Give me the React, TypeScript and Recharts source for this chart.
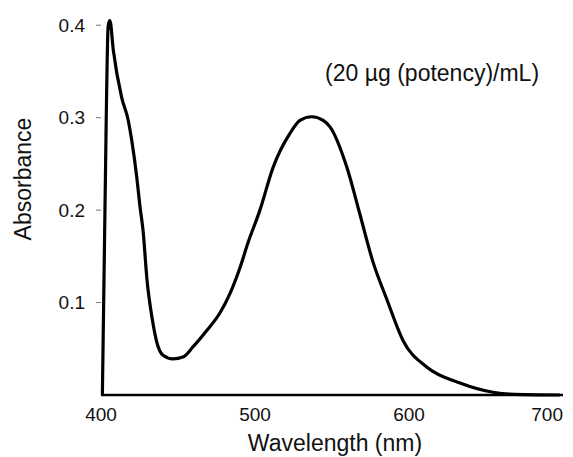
import { LineChart, Line, XAxis, YAxis, ReferenceDot } from "recharts";

// wavelength (nm) and absorbance
const wavelength = [
  400.9, 402.6, 404.7, 405.8, 408, 413.4, 417.7, 419.9, 423.2, 425.3, 427.3,
  429.9, 433.1, 436.4, 440.3, 446.8, 453.2, 459.7, 468.8, 477.3, 483.8, 490.3,
  495.5, 503.2, 511.7, 522.7, 529.2, 536.8, 544.3, 548.7, 559.7, 568.2, 576.6,
  585.7, 596.1, 611.7, 633.1, 654.5, 665.6, 698,
];
const absorbance = [
  0, 0.204, 0.4, 0.405, 0.373, 0.322, 0.297, 0.276, 0.236, 0.204, 0.178,
  0.124, 0.084, 0.056, 0.043, 0.039, 0.041, 0.052, 0.07, 0.089, 0.11, 0.138,
  0.165, 0.2, 0.246, 0.283, 0.297, 0.301, 0.297, 0.29, 0.246, 0.195, 0.144,
  0.103, 0.059, 0.03, 0.013, 0.003, 0.001, 0,
];
const xTicks = [400, 500, 600, 700];
const yTicks = [0.1, 0.2, 0.3, 0.4];
const note = "(20 µg (potency)/mL)";

const data = wavelength.map((w, i) => ({ w, a: absorbance[i] }));
const font = "'Liberation Sans', Arial, sans-serif";

const XTick = (props: any) => {
  const { x, y, payload } = props;
  // last label right-aligned so it stays inside the page
  const last = Number(payload.value) >= xTicks[xTicks.length - 1];
  return (
    <text
      x={last ? x + 2 : x}
      y={y}
      dy="0.71em"
      textAnchor={last ? "end" : "middle"}
      fontSize={19}
      fontFamily={font}
      fill="#111"
    >
      {payload.value}
    </text>
  );
};

export default function App() {
  return (
    <LineChart
      width={565}
      height={449}
      data={data}
      margin={{ top: 8, right: 10, bottom: 0, left: 0 }}
    >
      <XAxis
        dataKey="w"
        type="number"
        domain={[400, 700]}
        ticks={xTicks}
        tick={<XTick />}
        tickLine={false}
        tickSize={0}
        tickMargin={13}
        height={62}
        axisLine={{ stroke: "#000", strokeWidth: 2.5 }}
        label={{
          content: (p: any) => (
            <text
              x={p.viewBox.x + p.viewBox.width / 2 + 3}
              y={p.viewBox.y + 56}
              textAnchor="middle"
              fontSize={23}
              fontFamily={font}
              fill="#111"
            >
              Wavelength (nm)
            </text>
          ),
        }}
      />
      <YAxis
        type="number"
        domain={[0, 0.41]}
        ticks={yTicks}
        tickFormatter={(v: number) => v.toFixed(1)}
        width={93}
        tickSize={5}
        tickMargin={11}
        tickLine={{ stroke: "#777" }}
        axisLine={false}
        tick={{ fontSize: 19, fontFamily: font, fill: "#111" }}
        label={{
          content: () => (
            <text
              x={15}
              y={171}
              transform="rotate(-90 15 171)"
              textAnchor="middle"
              dominantBaseline="central"
              fontSize={23}
              fontFamily={font}
              fill="#111"
            >
              Absorbance
            </text>
          ),
        }}
      />
      <ReferenceDot
        x={615}
        y={0.349}
        r={0}
        fill="none"
        stroke="none"
        label={{
          value: note,
          position: "center",
          fontSize: 23,
          fontFamily: font,
          fill: "#111",
        }}
      />
      <Line
        type="monotone"
        dataKey="a"
        stroke="#000"
        strokeWidth={3.2}
        dot={false}
        isAnimationActive={false}
      />
    </LineChart>
  );
}
